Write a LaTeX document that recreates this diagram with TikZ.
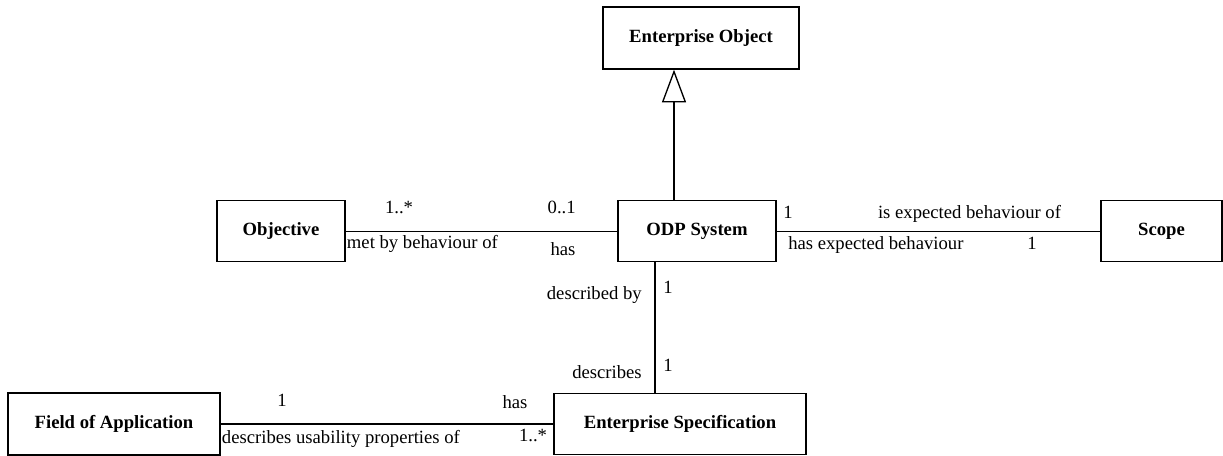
\documentclass[tikz,border=0pt]{standalone}
\usepackage{fontspec}
\setmainfont{Liberation Serif}
\usepackage{tikz}
\usetikzlibrary{
  arrows.meta,
  positioning,
  calc
}

\begin{document}
\begin{tikzpicture}[
        x=0.75pt, y=-0.75pt,
        cls/.style={draw, line width=1pt, minimum height=45.75pt, inner sep=0pt, font=\fontsize{14}{16}\selectfont\bfseries},
        role/.style={inner sep=0pt, anchor=mid, font=\fontsize{14}{16}\selectfont},
        assoc/.style={line width=1pt},
        inherit/.style={line width=1pt, -{Triangle[open, length=24.5pt, width=18pt, fill=white]}}
    ]
        \useasboundingbox (0,0) rectangle (1223,455);
        % Klassen
        \node[cls, minimum width=147pt, minimum height=46.5pt] (eo) at (701,38) {Enterprise Object};
        \node[cls, minimum width=96pt] (obj) at (281,231.2) {Objective};
        \node[cls, minimum width=118.5pt] (odp) at (697,231.2) {ODP System};
        \node[cls, minimum width=90.75pt] (scope) at (1161.5,231.2) {Scope};
        \node[cls, minimum width=159pt, minimum height=46.5pt] (foa) at (114,424) {Field of Application};
        \node[cls, minimum width=189pt] (es) at (680,423.7) {Enterprise Specification};
        % Generalisierung
        \coordinate (g) at (674,150);
        \draw[inherit] (g |- odp.north) -- (g |- eo.south);
        % Assoziationen
        \draw[assoc] (obj.east) -- (odp.west);
        \draw[assoc] (odp.east) -- (scope.west);
        \coordinate (d) at (655,330);
        \draw[assoc] (d |- odp.south) -- (d |- es.north);
        \draw[assoc] (foa.east) -- (foa.east -| es.west);
        % Rollen und Multiplizitaeten
        \node[role] (m1) at (399,210) {1..*};
        \node[role] (m2) at (561.7,210) {0..1};
        \node[role, anchor=mid west] (r1) at (346.7,245.7) {met by behaviour of};
        \node[role] (r2) at (563,252.7) {has};
        \node[role] (m3) at (788,215) {1};
        \node[role] (r3) at (969.5,215) {is expected behaviour of};
        \node[role, anchor=mid west] (r4) at (788,246.7) {has expected behaviour};
        \node[role] (m4) at (1032,246.7) {1};
        \node[role, anchor=mid east] (r5) at (642,296.7) {described by};
        \node[role] (m5) at (668,290.7) {1};
        \node[role, anchor=mid east] (r6) at (642,375) {describes};
        \node[role] (m6) at (668,368) {1};
        \node[role] (m7) at (282,403) {1};
        \node[role] (r7) at (515,405) {has};
        \node[role, anchor=mid west] (r8) at (221.7,440) {describes usability properties of};
        \node[role] (m8) at (533,438) {1..*};
    \end{tikzpicture}
\end{document}
